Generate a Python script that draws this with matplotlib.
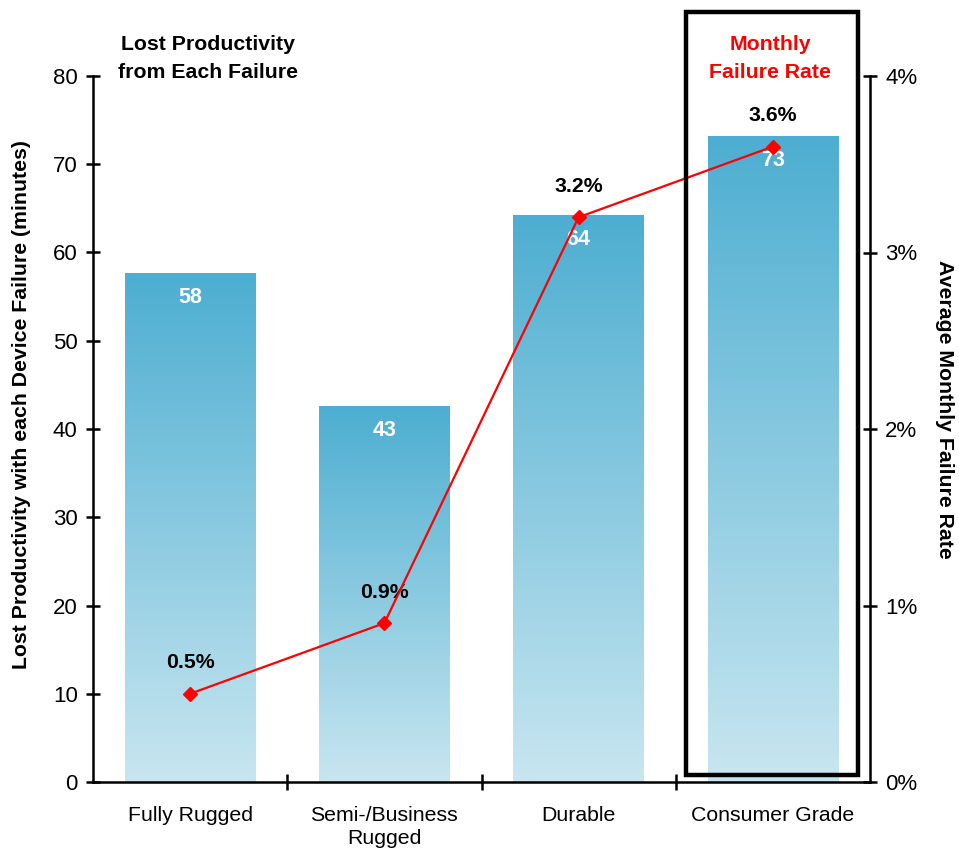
import matplotlib
matplotlib.use("Agg")
import matplotlib.pyplot as plt
import numpy as np
from matplotlib.colors import LinearSegmentedColormap
from matplotlib.patches import Rectangle

plt.rcParams['font.family'] = ['Liberation Sans', 'DejaVu Sans']

categories = ["Fully Rugged", "Semi-/Business\nRugged", "Durable", "Consumer Grade"]
lost_minutes = [57.6, 42.6, 64.2, 73.2]
minute_labels = ["58", "43", "64", "73"]
failure_rate = [0.5, 0.9, 3.2, 3.6]
rate_labels = ["0.5%", "0.9%", "3.2%", "3.6%"]
left_ticks = [0, 10, 20, 30, 40, 50, 60, 70, 80]
right_ticks = [0, 1, 2, 3, 4]
right_tick_labels = ["0%", "1%", "2%", "3%", "4%"]

fig = plt.figure(figsize=(9.59, 8.52), dpi=100)
ax = fig.add_axes([93/959, 1-782/852, (870-93)/959, (782-76)/852])

cmap = LinearSegmentedColormap.from_list("g", ["#C8E6F0", "#4DAED1"])
x = np.arange(len(categories))
width = 0.673
bars = ax.bar(x, lost_minutes, width=width, color="none", edgecolor="none", zorder=2)
grad = np.linspace(0, 1, 256).reshape(-1, 1)
for b in bars:
    x0, y0 = b.get_x(), b.get_y()
    ax.imshow(grad, extent=[x0, x0 + b.get_width(), y0, y0 + b.get_height()],
              origin="lower", aspect="auto", cmap=cmap, zorder=1)
for xi, v, lab in zip(x, lost_minutes, minute_labels):
    ax.annotate(lab, (xi, v), xytext=(0, -24), textcoords="offset pixels",
                ha="center", va="center", color="white", fontsize=15.5,
                fontweight="bold", zorder=5)

ax.set_xlim(-0.5, 3.5)
ax.set_ylim(0, 80)
ax.set_yticks(left_ticks)
ax.set_xticks([0.5, 1.5, 2.5])
ax.set_xticklabels([])
ax.set_xticks(x, minor=True)
ax.set_xticklabels(categories, minor=True, fontsize=15.3, linespacing=1.3)
ax.tick_params(axis="x", which="minor", length=0, pad=17)
ax.tick_params(axis="x", which="major", direction="inout", length=11, width=1.8)
ax.tick_params(axis="y", direction="inout", length=10, width=1.8, labelsize=16, pad=6)
for s in ["top", "right"]:
    ax.spines[s].set_visible(False)
for s in ["left", "bottom"]:
    ax.spines[s].set_linewidth(1.8)
ax.set_ylabel("Lost Productivity with each Device Failure (minutes)",
              fontsize=15.3, fontweight="bold", labelpad=15.5)
ax.yaxis.label.set_y(0.535)

ax2 = ax.twinx()
ax2.set_ylim(0, 4)
ax2.plot(x, failure_rate, color="#FF0000", lw=1.6, marker="D", ms=7, zorder=4)
for xi, v, lab in zip(x, failure_rate, rate_labels):
    ax2.annotate(lab, (xi, v), xytext=(0, 31), textcoords="offset pixels",
                 ha="center", va="center", fontsize=15.3, fontweight="bold")
ax2.set_yticks(right_ticks)
ax2.set_yticklabels(right_tick_labels)
ax2.tick_params(axis="y", direction="inout", length=10, width=1.8, labelsize=16, pad=6)
for s in ["top", "left", "bottom"]:
    ax2.spines[s].set_visible(False)
ax2.spines["right"].set_linewidth(1.8)
ax2.set_ylabel("Average Monthly Failure Rate", fontsize=15.3, fontweight="bold",
               rotation=270, labelpad=26)
ax2.yaxis.label.set_y(0.528)

fig.text(208/959, 1-58/852, "Lost Productivity\nfrom Each Failure", ha="center",
         va="center", fontsize=15.3, fontweight="bold", linespacing=1.6)
fig.text(770/959, 1-58/852, "Monthly\nFailure Rate", ha="center",
         va="center", fontsize=15.3, fontweight="bold", color="#FF0000", linespacing=1.6)
fig.patches.append(Rectangle((686/959, 1-775/852), (858-686)/959, (775-12)/852,
                             transform=fig.transFigure, fill=False, lw=3.2,
                             edgecolor="black", zorder=10))

fig.savefig("out.png", dpi=100)
